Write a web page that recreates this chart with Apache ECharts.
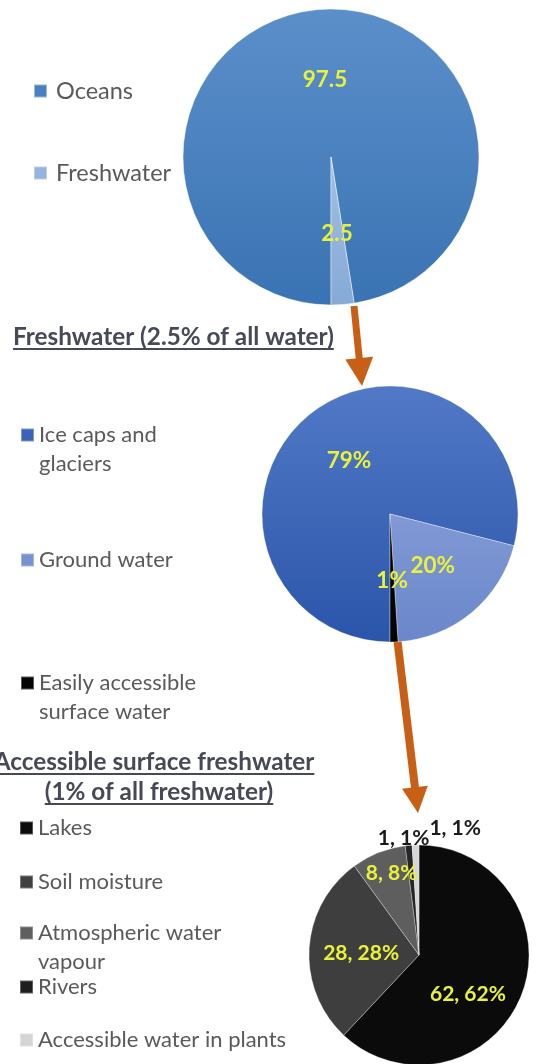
<!DOCTYPE html>
<html>
<head>
<meta charset="utf-8">
<script src="https://cdn.jsdelivr.net/npm/echarts/dist/echarts.min.js"></script>
<style>
  html, body { margin: 0; padding: 0; background: #ffffff; }
  #chart { width: 538px; height: 1064px; }
</style>
</head>
<body>
<div id="chart"></div>
<script>
// All water on Earth (%)
const waterCategories = ['Oceans', 'Freshwater'];
const waterValues = [97.5, 2.5];

// Freshwater split (% of all freshwater)
const freshCategories = ['Ice caps and\nglaciers', 'Ground water', 'Easily accessible\nsurface water'];
const freshValues = [79, 20, 1];

// Accessible surface freshwater split
const surfaceCategories = ['Lakes', 'Soil moisture', 'Atmospheric water\nvapour', 'Rivers', 'Accessible water in plants'];
const surfaceValues = [62, 28, 8, 1, 1];

// Headings
const freshTitle = 'Freshwater (2.5% of all water)';
const surfaceTitle = ['Accessible surface freshwater', '(1% of all freshwater)'];

// ---- styling / layout ----
const FONT = 'Lato, "Open Sans", sans-serif';
const YELLOW = '#e8f23a';
const ORANGE = '#c75f17';
const LEGEND_TEXT = '#5a5a5a';
const TITLE_TEXT = '#464956';
const LINE_H = 29;

function vgrad(top, bottom) {
  return new echarts.graphic.LinearGradient(0, 0, 0, 1, [
    { offset: 0, color: top },
    { offset: 1, color: bottom }
  ]);
}

const waterColors = [vgrad('#5b8fca', '#3a73b3'), vgrad('#a3c0e4', '#86a9d6')];
const freshColors = [vgrad('#5179c7', '#2b55a9'), vgrad('#8199d5', '#6a87ca'), '#050505'];
const surfaceColors = ['#0b0b0b', '#3e3e3e', '#5e5e5e', '#262626', '#d6d6d6'];

// flat swatch colours for the legend keys
const waterKeyColors = ['#4a80c0', '#94b4dd'];
const freshKeyColors = ['#3b63b8', '#7891d0', '#050505'];
const surfaceKeyColors = ['#0d0d0d', '#404040', '#5f5f5f', '#1e1e1e', '#d4d4d4'];

// label nudges for the small pie (inside position as the base)
const surfaceLabelShift = [[-5, 18], [0, 2], [-6, -28], [-10, -59], [38, -69]];
const surfaceLabelColor = [YELLOW, YELLOW, YELLOW, '#1a1a1a', '#1a1a1a'];

function buildData(names, values, colors, extra) {
  return names.map((n, i) => Object.assign({
    name: n,
    value: values[i],
    itemStyle: { color: colors[i] }
  }, extra ? extra(i) : {}));
}

function legendItem(name, keyColor, left, centerY, opts) {
  opts = opts || {};
  const multi = name.indexOf('\n') >= 0;
  const fontSize = opts.fontSize || 22;
  const padLeft = opts.padLeft || 0;
  return {
    data: [{ name: name, itemStyle: { color: keyColor } }],
    left: left,
    top: multi ? centerY - LINE_H * 1.5 : centerY - LINE_H / 2,
    orient: 'vertical',
    padding: 0,
    selectedMode: false,
    icon: 'rect',
    itemWidth: 13,
    itemHeight: 13,
    // an empty leading line keeps the key square beside the first text line
    formatter: n => (multi ? '\n' + n : n),
    textStyle: {
      fontFamily: FONT,
      fontSize: fontSize,
      color: LEGEND_TEXT,
      lineHeight: LINE_H,
      padding: [0, 0, 0, padLeft]
    }
  };
}

function arrow(x0, y0, x1, y1, headLen, headW, lw) {
  const dx = x1 - x0, dy = y1 - y0;
  const len = Math.sqrt(dx * dx + dy * dy);
  const ux = dx / len, uy = dy / len;
  const bx = x1 - ux * headLen, by = y1 - uy * headLen;
  const px = -uy, py = ux;
  return [
    { type: 'line', z: 1, shape: { x1: x0, y1: y0, x2: bx + ux * 2, y2: by + uy * 2 },
      style: { stroke: ORANGE, lineWidth: lw } },
    { type: 'polygon', z: 1, shape: { points: [
        [bx + px * headW / 2, by + py * headW / 2],
        [bx - px * headW / 2, by - py * headW / 2],
        [x1, y1]] },
      style: { fill: ORANGE } }
  ];
}

const measureCtx = document.createElement('canvas').getContext('2d');
function textWidth(str, font) {
  measureCtx.font = font;
  return measureCtx.measureText(str).width;
}

function underlinedText(str, x, cy, align, fontSize) {
  const font = 'bold ' + fontSize + 'px ' + FONT;
  const w = textWidth(str, font);
  const left = align === 'center' ? x - w / 2 : x;
  return [
    { type: 'text', z: 5, style: { text: str, x: x, y: cy, align: align, verticalAlign: 'middle',
        font: font, fill: TITLE_TEXT } },
    { type: 'line', z: 5, shape: { x1: left, y1: cy + 12, x2: left + w, y2: cy + 12 },
      style: { stroke: TITLE_TEXT, lineWidth: 2 } }
  ];
}

const chart = echarts.init(document.getElementById('chart'), null, { renderer: 'canvas' });

const baseLabel = {
  show: true,
  position: 'inside',
  color: YELLOW,
  fontFamily: FONT,
  fontWeight: 'bold',
  fontSize: 22.5
};

const option = {
  backgroundColor: '#ffffff',
  animation: false,
  legend: [
    legendItem(waterCategories[0], waterKeyColors[0], 33, 91, { fontSize: 23.5, padLeft: 4 }),
    legendItem(waterCategories[1], waterKeyColors[1], 33, 173, { fontSize: 23.5, padLeft: 4 }),
    legendItem(freshCategories[0], freshKeyColors[0], 20, 435),
    legendItem(freshCategories[1], freshKeyColors[1], 20, 560),
    legendItem(freshCategories[2], freshKeyColors[2], 20, 683),
    legendItem(surfaceCategories[0], surfaceKeyColors[0], 19, 828),
    legendItem(surfaceCategories[1], surfaceKeyColors[1], 19, 882),
    legendItem(surfaceCategories[2], surfaceKeyColors[2], 19, 933),
    legendItem(surfaceCategories[3], surfaceKeyColors[3], 19, 987),
    legendItem(surfaceCategories[4], surfaceKeyColors[4], 19, 1040)
  ],
  graphic: [].concat(
    arrow(354, 306, 362, 386, 28, 28, 7),
    arrow(397, 637, 418, 813, 26, 26, 8),
    underlinedText(freshTitle, 13, 337, 'left', 24.3),
    underlinedText(surfaceTitle[0], 154, 762, 'center', 24.3),
    underlinedText(surfaceTitle[1], 159, 792, 'center', 24.3)
  ),
  series: [
    {
      type: 'pie',
      name: 'All water',
      center: [331, 157],
      radius: 148,
      startAngle: -90,
      clockwise: true,
      silent: true,
      avoidLabelOverlap: false,
      labelLayout: { hideOverlap: false },
      itemStyle: { borderColor: 'rgba(255,255,255,0.45)', borderWidth: 1 },
      label: Object.assign({}, baseLabel, { formatter: '{c}' }),
      labelLine: { show: false },
      data: buildData(waterCategories, waterValues, waterColors)
    },
    {
      type: 'pie',
      name: 'Freshwater',
      center: [390, 514],
      radius: 128,
      startAngle: -90,
      clockwise: true,
      silent: true,
      avoidLabelOverlap: false,
      labelLayout: { hideOverlap: false },
      itemStyle: { borderColor: 'rgba(255,255,255,0.35)', borderWidth: 1 },
      label: Object.assign({}, baseLabel, { formatter: '{c}%' }),
      labelLine: { show: false },
      data: buildData(freshCategories, freshValues, freshColors)
    },
    {
      type: 'pie',
      name: 'Accessible surface freshwater',
      center: [419, 955],
      radius: 110,
      startAngle: 90,
      clockwise: true,
      silent: true,
      avoidLabelOverlap: false,
      labelLayout: { hideOverlap: false },
      itemStyle: { borderColor: 'rgba(255,255,255,0.3)', borderWidth: 1 },
      label: Object.assign({}, baseLabel, { formatter: '{c}, {d}%', fontSize: 21 }),
      labelLine: { show: false },
      data: buildData(surfaceCategories, surfaceValues, surfaceColors, i => ({
        label: { offset: surfaceLabelShift[i], color: surfaceLabelColor[i] }
      }))
    }
  ]
};

chart.setOption(option);
</script>
</body>
</html>
